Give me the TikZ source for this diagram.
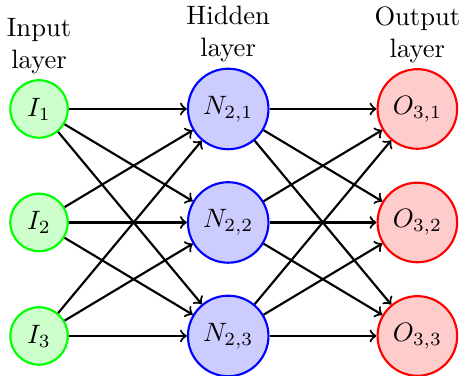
\documentclass[tikz,border=0pt]{standalone}
\usepackage{tikz}
\usetikzlibrary{positioning}
\tikzset{
  innode/.style={circle, draw=green, fill=green!20, thick},
  hidnode/.style={circle, draw=blue, fill=blue!20, thick},
  outnode/.style={circle, draw=red, fill=red!20, thick},
  nnarr/.style={->, thick},
  laylabel/.style={align=center}
}
\begin{document}
\begin{tikzpicture}[node distance=-1.5pt]
\useasboundingbox (-0.516,-3.52) rectangle (5.59,1.44);
% layers
\foreach \i in {1,2,3} {
  \node[innode] (I-\i) at (0,{-1.5*(\i-1)}) {$I_\i$};
  \node[hidnode] (N-\i) at (2.5,{-1.5*(\i-1)}) {$N_{2,\i}$};
  \node[outnode] (O-\i) at (5,{-1.5*(\i-1)}) {$O_{3,\i}$};
}
% connections
\foreach \i in {1,2,3}
  \foreach \j in {1,2,3} {
    \draw[nnarr] (I-\i) -- (N-\j);
    \draw[nnarr] (N-\i) -- (O-\j);
  }
% layer labels
\node[laylabel, above=of I-1] (inlab) {Input\\layer};
\node[laylabel, above=of N-1] (hidlab) {Hidden\\layer};
\node[laylabel, above=of O-1] (outlab) {Output\\layer};
\end{tikzpicture}
\end{document}
